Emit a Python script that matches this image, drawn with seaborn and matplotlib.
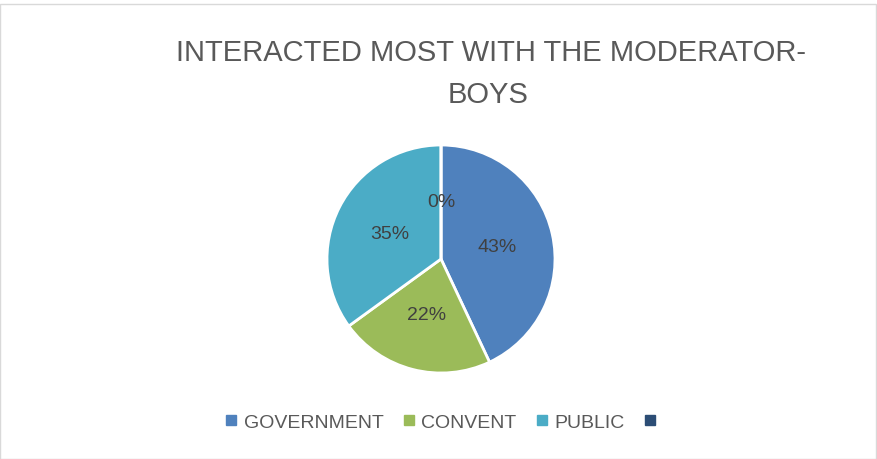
import matplotlib
matplotlib.use("Agg")
import matplotlib.pyplot as plt
import seaborn as sns
import numpy as np
from matplotlib.lines import Line2D
from matplotlib.patches import Rectangle

categories = ["GOVERNMENT", "CONVENT", "PUBLIC", ""]
values = [43, 22, 35, 0]
pct_labels = ["43%", "22%", "35%", "0%"]
colors = ["#4F81BD", "#9BBB59", "#4BACC6", "#2C4D75"]
title_lines = ["INTERACTED MOST WITH THE MODERATOR-", "BOYS"]

sns.set_theme(style="white")
fam = ["Liberation Sans", "DejaVu Sans"]
plt.rcParams["font.family"] = fam

W, H = 878, 460
fig = plt.figure(figsize=(W / 100, H / 100), dpi=100)
fig.patch.set_facecolor("white")
fig.patches.append(Rectangle((0.5 / W, 0.5 / H), 1 - 2.5 / W, 1 - 5 / H,
                             transform=fig.transFigure, fill=False,
                             edgecolor="#D9D9D9", linewidth=1))

# pie axes: center (441,260) px, radius 114 px
cx, cy, r = 441, 260, 114
ax = fig.add_axes([(cx - r) / W, 1 - (cy + r) / H, 2 * r / W, 2 * r / H])
pal = sns.color_palette(colors)
wedges, texts = ax.pie(values, colors=pal, startangle=90, counterclock=False,
                       radius=1, wedgeprops=dict(edgecolor="white", linewidth=2))
ax.set_xlim(-1, 1)
ax.set_ylim(-1, 1)
ax.set_aspect("equal")
ax.axis("off")

total = sum(values)
start = 90.0
for v, lab in zip(values, pct_labels):
    span = 360.0 * v / total
    mid = np.deg2rad(start - span / 2)
    ax.text(0.5 * np.cos(mid), 0.5 * np.sin(mid), lab, ha="center", va="center",
            fontsize=14, color="#404040")
    start -= span

fig.text(491 / W, 1 - 53 / H, title_lines[0], ha="center",
         va="center", fontsize=21, color="#595959")
fig.text(488 / W, 1 - 95 / H, title_lines[1], ha="center", va="center",
         fontsize=21, color="#595959")

handles = [Line2D([0], [0], marker="s", linestyle="none", markersize=7,
                  markerfacecolor=c, markeredgecolor=c) for c in colors]
fig.legend(handles, categories, loc="center", bbox_to_anchor=(444 / W, 1 - 423 / H),
           ncol=4, frameon=False, fontsize=14, labelcolor="#595959",
           handlelength=0.6, handletextpad=0.35, columnspacing=1.0)

fig.savefig("out.png", dpi=100)
